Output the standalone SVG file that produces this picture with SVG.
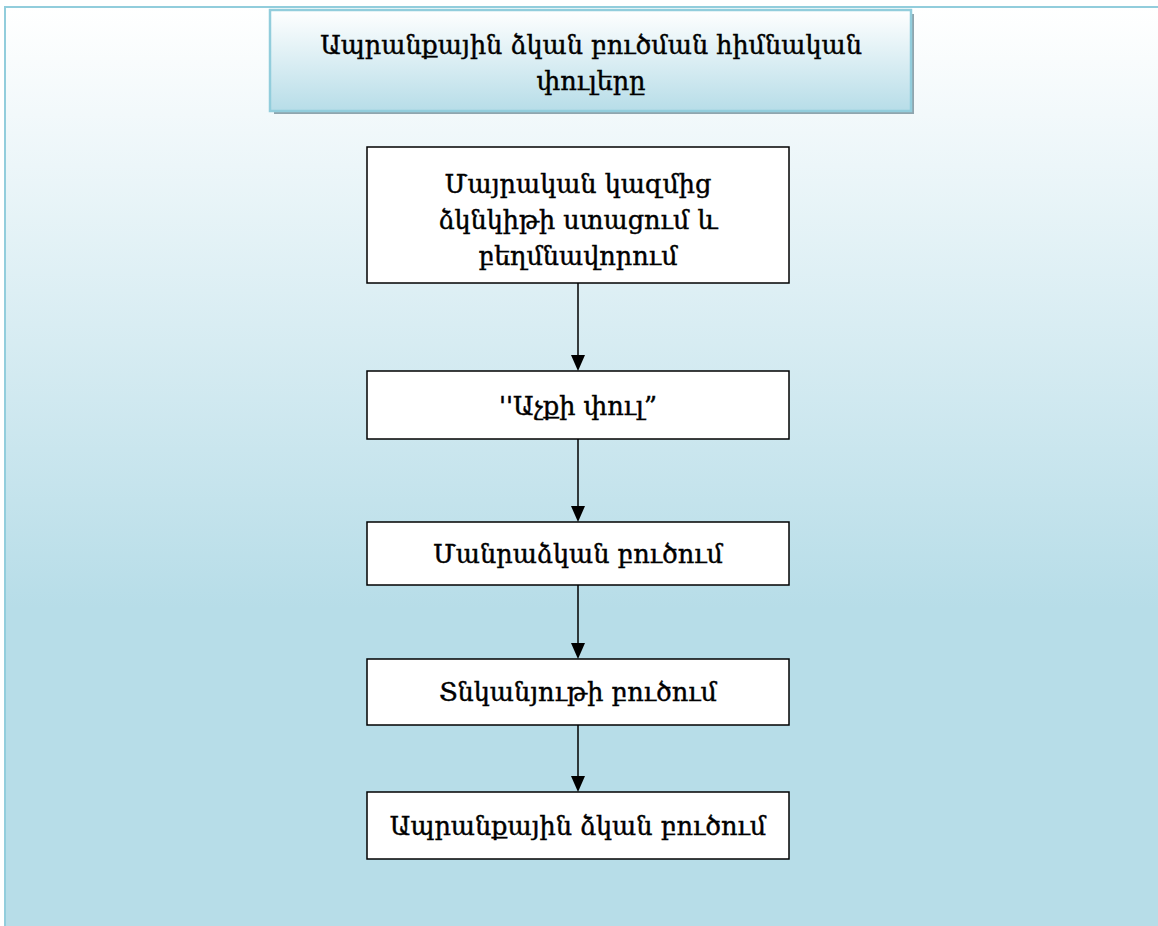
<svg xmlns="http://www.w3.org/2000/svg" width="1158" height="926" viewBox="0 0 1158 926">
<defs>
<linearGradient id="bg" x1="0" y1="0" x2="0" y2="1">
<stop offset="0" stop-color="#ffffff"/>
<stop offset="0.65" stop-color="#b7dde8"/>
<stop offset="1" stop-color="#b7dde8"/>
</linearGradient>
<linearGradient id="tg" x1="0" y1="0" x2="0" y2="1">
<stop offset="0" stop-color="#ffffff"/>
<stop offset="1" stop-color="#b7dde8"/>
</linearGradient>
<style>
.box{fill:#fff;stroke:#000;stroke-width:1.5}
.t{font-family:"DejaVu Serif","Liberation Serif",serif;font-size:25.5px;fill:#000;stroke:#000;stroke-width:0.45;text-anchor:middle}
.c{stroke:#000;stroke-width:1.5;fill:none}
.h{fill:#000}
</style>
</defs>
<rect x="5" y="7" width="1160" height="925" fill="url(#bg)" stroke="#92cddc" stroke-width="2"/>
<g id="title">
<rect x="274" y="14" width="640" height="100" fill="#8fa5ae"/>
<rect x="270" y="10" width="641" height="101" fill="url(#tg)" stroke="#92cddc" stroke-width="2.5"/>
<text class="t" x="591" y="54">Ապրանքային ձկան բուծման հիմնական</text>
<text class="t" x="591" y="90">փուլերը</text>
</g>
<g id="connectors">
<line class="c" x1="578" y1="283" x2="578" y2="355"/>
<path class="h" d="M571,355 L585,355 L578,371 Z"/>
<line class="c" x1="578" y1="439" x2="578" y2="506"/>
<path class="h" d="M571,506 L585,506 L578,522 Z"/>
<line class="c" x1="578" y1="585" x2="578" y2="643"/>
<path class="h" d="M571,643 L585,643 L578,659 Z"/>
<line class="c" x1="578" y1="725" x2="578" y2="776"/>
<path class="h" d="M571,776 L585,776 L578,792 Z"/>
</g>
<g id="n1">
<rect class="box" x="367" y="147" width="422" height="136"/>
<text class="t" x="578" y="193">Մայրական կազմից</text>
<text class="t" x="578" y="229">ձկնկիթի ստացում և</text>
<text class="t" x="578" y="265">բեղմնավորում</text>
</g>
<g id="n2">
<rect class="box" x="367" y="371" width="422" height="68"/>
<text class="t" x="578" y="415">''Աչքի փուլ”</text>
</g>
<g id="n3">
<rect class="box" x="367" y="522" width="422" height="63"/>
<text class="t" x="578" y="563">Մանրաձկան բուծում</text>
</g>
<g id="n4">
<rect class="box" x="367" y="659" width="422" height="66"/>
<text class="t" x="578" y="701">Տնկանյութի բուծում</text>
</g>
<g id="n5">
<rect class="box" x="367" y="792" width="422" height="67"/>
<text class="t" x="578" y="835">Ապրանքային ձկան բուծում</text>
</g>
</svg>
